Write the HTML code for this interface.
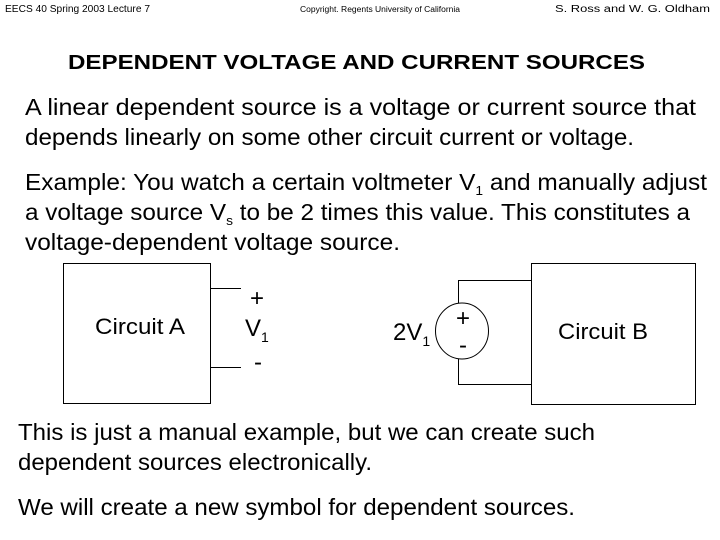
<!DOCTYPE html>
<html><head><meta charset="utf-8"><style>
html,body{margin:0;padding:0;background:#fff;}
svg{display:block;}
text{font-family:"Liberation Sans",Arial,sans-serif;fill:#000;}
</style></head><body>
<svg width="720" height="540" viewBox="0 0 720 540" xmlns="http://www.w3.org/2000/svg">
<text x="5" y="12" font-size="10" textLength="145" lengthAdjust="spacingAndGlyphs">EECS 40 Spring 2003 Lecture 7</text>
<text x="300" y="12" font-size="8" textLength="160" lengthAdjust="spacingAndGlyphs">Copyright. Regents University of California</text>
<text x="555" y="12" font-size="10" textLength="155" lengthAdjust="spacingAndGlyphs">S. Ross and W. G. Oldham</text>

<text x="68" y="69" font-size="20" font-weight="bold" textLength="577" lengthAdjust="spacingAndGlyphs">DEPENDENT VOLTAGE AND CURRENT SOURCES</text>

<text x="25" y="115" font-size="23" textLength="671" lengthAdjust="spacingAndGlyphs">A linear dependent source is a voltage or current source that</text>
<text x="25" y="145" font-size="23" textLength="609" lengthAdjust="spacingAndGlyphs">depends linearly on some other circuit current or voltage.</text>
<text x="25" y="190" font-size="23" textLength="682" lengthAdjust="spacingAndGlyphs">Example:  You watch a certain voltmeter V<tspan font-size="13" dy="5">1</tspan><tspan dy="-5"> and manually adjust</tspan></text>
<text x="25" y="220" font-size="23" textLength="665" lengthAdjust="spacingAndGlyphs">a voltage source V<tspan font-size="13" dy="5">s</tspan><tspan dy="-5"> to be 2 times this value.  This constitutes a</tspan></text>
<text x="25" y="250" font-size="23" textLength="375" lengthAdjust="spacingAndGlyphs">voltage-dependent voltage source.</text>

<g stroke="#000" stroke-width="1" fill="none">
<rect x="63.5" y="263.5" width="147" height="140"/>
<line x1="211" y1="288.5" x2="241" y2="288.5"/>
<line x1="211" y1="367.5" x2="241" y2="367.5"/>
<rect x="531.5" y="263.5" width="164" height="141"/>
<ellipse cx="462" cy="331" rx="26.5" ry="28"/>
<polyline points="532,280.5 458.5,280.5 458.5,303"/>
<polyline points="532,384.5 458.5,384.5 458.5,359"/>
</g>
<text x="95" y="334" font-size="22" textLength="90" lengthAdjust="spacingAndGlyphs">Circuit A</text>
<text x="250" y="306" font-size="24">+</text>
<text x="245" y="336" font-size="24">V<tspan font-size="14" dy="6">1</tspan></text>
<text x="254" y="370" font-size="24">-</text>
<text x="393" y="340" font-size="24">2V<tspan font-size="14" dy="6">1</tspan></text>
<text x="456" y="326" font-size="24">+</text>
<text x="459" y="353" font-size="24">-</text>
<text x="558" y="339" font-size="22" textLength="90" lengthAdjust="spacingAndGlyphs">Circuit B</text>

<text x="18" y="440" font-size="23" textLength="577" lengthAdjust="spacingAndGlyphs">This is just a manual example, but we can create such</text>
<text x="18" y="470" font-size="23" textLength="354" lengthAdjust="spacingAndGlyphs">dependent sources electronically.</text>
<text x="18" y="515" font-size="23" textLength="557" lengthAdjust="spacingAndGlyphs">We will create a new symbol for dependent sources.</text>
</svg>
</body></html>
